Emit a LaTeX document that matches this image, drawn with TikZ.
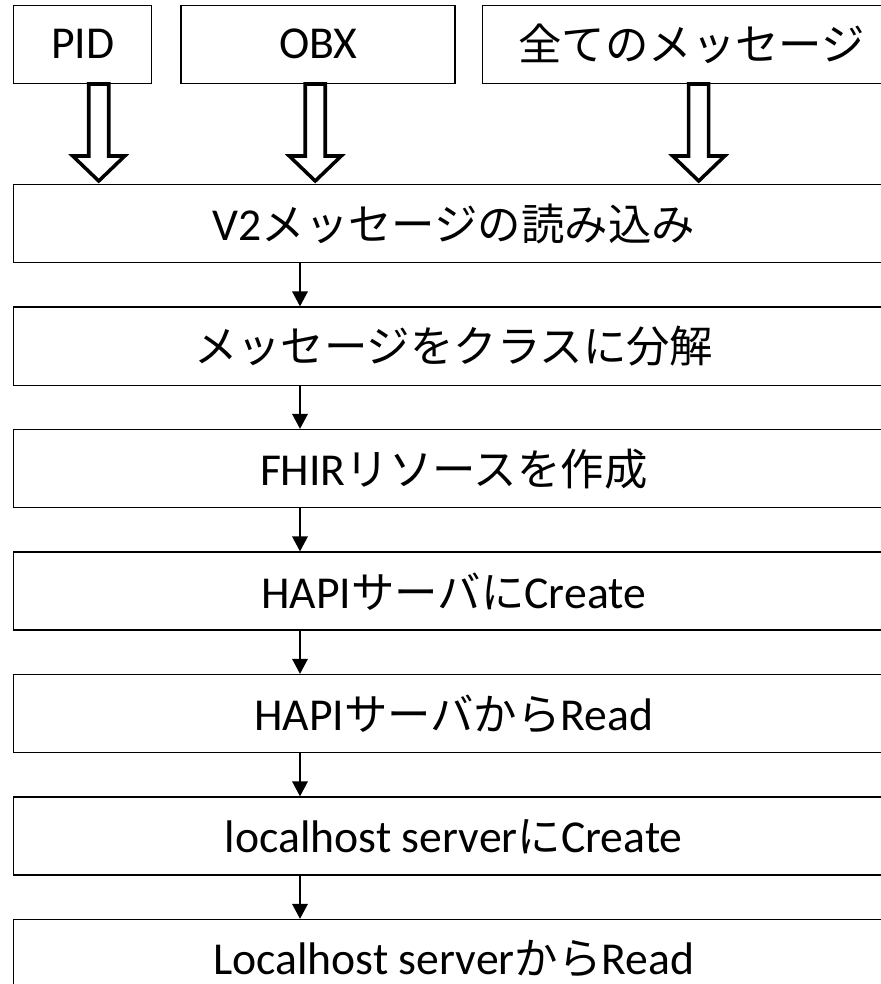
\documentclass[tikz,border=0pt]{standalone}
\usepackage{fontspec}
\setmainfont{Carlito}
\newfontfamily\jp{Noto Sans CJK JP}[Scale=0.95]
\usetikzlibrary{arrows.meta, positioning, calc}

\begin{document}
\begin{tikzpicture}[
    node distance=0.86cm,
    box/.style={draw, line width=0.85pt, minimum width=17.6cm, minimum height=1.56cm, inner sep=0pt, font=\fontsize{26}{30}\selectfont},
    srcbox/.style={box, minimum width=#1},
    flow/.style={-{Triangle[width=0.3cm, length=0.3cm]}, line width=1.7pt},
    hollow/.style={draw, fill=white, line width=2pt, line join=miter}
]
\useasboundingbox (0,0) rectangle (17.62,-19.68);
\clip (0,0) rectangle (17.62,-19.68);
% processing chain
\node[box, anchor=north west] (v2) at (0.26,-3.68) {V2{\jp メッセージの読み込み}};
\node[box, below=of v2] (parse) {\jp メッセージをクラスに分解};
\node[box, below=of parse] (fhir) {FHIR{\jp リソースを作成}};
\node[box, below=of fhir] (create) {HAPI{\jp サーバに}Create};
\node[box, below=of create] (read) {HAPI{\jp サーバから}Read};
\node[box, below=of read] (lcreate) {localhost server{\jp に}Create};
\node[box, below=of lcreate] (lread) {Localhost server{\jp から}Read};
% input segments
\node[srcbox=2.76cm, above right=2cm and 0cm of v2.north west] (pid) {PID};
\node[srcbox=5.48cm, right=0.56cm of pid] (obx) {OBX};
\node[srcbox=8.36cm, right=0.52cm of obx] (all) {\jp 全てのメッセージ};
% hollow arrows into the reader
\foreach \src/\dx in {pid/0.32, obx/-0.06, all/0.14} {
  \coordinate (\src-top) at ($(\src.south)+(\dx,0)$);
  \coordinate (\src-tip) at (\src-top |- v2.north);
  \draw[hollow] ($(\src-top)+(-0.2,0)$) -- ($(\src-tip)+(-0.2,0.56)$) -- ($(\src-tip)+(-0.52,0.56)$)
    -- ($(\src-tip)+(0,0.06)$) -- ($(\src-tip)+(0.52,0.56)$) -- ($(\src-tip)+(0.2,0.56)$)
    -- ($(\src-top)+(0.2,0)$) -- cycle;
}
% flow arrows
\coordinate (spine) at ($(v2.south west)+(5.74,0)$);
\foreach \a/\b in {v2/parse, parse/fhir, fhir/create, create/read, read/lcreate, lcreate/lread}
  \draw[flow] (\a.south -| spine) -- (\b.north -| spine);
\end{tikzpicture}
\end{document}
